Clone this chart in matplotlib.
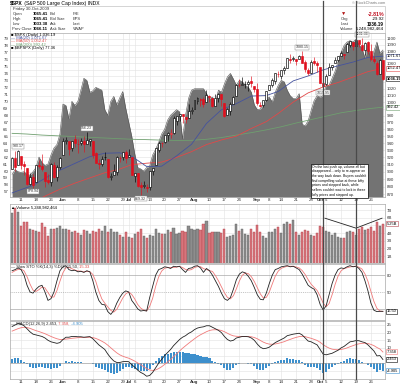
import matplotlib
matplotlib.use("Agg")
import matplotlib.pyplot as plt
import numpy as np
import pandas as pd
from matplotlib.patches import Rectangle
from matplotlib.ticker import FixedLocator, NullLocator, FuncFormatter, NullFormatter

plt.rcParams["font.family"] = ["Liberation Sans", "DejaVu Sans"]

W, H = 400, 385

HOLIDAYS = ["2009-05-25", "2009-07-03", "2009-09-07"]
DATES = pd.bdate_range("2009-05-06", "2009-10-30")
DATES = DATES[~DATES.isin(pd.to_datetime(HOLIDAYS))]

PREV_CLOSE = 903.80

OPEN = [
    903.8, 919.6, 909.0, 922.0, 910.5, 905.4, 884.2, 892.8, 886.1, 909.7,
    908.6, 900.4, 888.7, 887.0, 909.9, 892.9, 907.0, 923.3, 942.9, 942.5,
    932.5, 945.7, 938.1, 940.4, 942.7, 939.0, 943.4, 942.5, 925.6, 911.9,
    910.9, 919.9, 918.1, 893.5, 896.3, 899.5, 918.8, 919.9, 927.2, 920.8,
    921.2, 894.3, 898.6, 881.9, 881.3, 880.0, 879.6, 900.8, 910.2, 930.2,
    940.6, 942.1, 951.9, 953.4, 954.1, 972.2, 978.6, 981.5, 977.7, 976.0,
    986.8, 990.2, 1001.4, 1005.4, 1004.1, 999.8, 1008.9, 1005.8, 994.0, 1005.9,
    1012.2, 998.2, 980.6, 986.9, 996.4, 1009.1, 1026.6, 1026.6, 1027.4, 1027.8,
    1031.6, 1025.2, 1019.5, 996.1, 996.1, 1003.8, 1018.7, 1025.4, 1033.0, 1043.9,
    1040.2, 1049.0, 1053.0, 1067.9, 1066.6, 1067.1, 1066.4, 1072.7, 1062.6, 1049.5,
    1045.4, 1063.7, 1061.0, 1054.9, 1029.7, 1026.9, 1042.0, 1053.7, 1060.0, 1065.3,
    1071.6, 1074.9, 1078.7, 1090.4, 1094.7, 1088.2, 1098.6, 1090.4, 1081.0, 1095.6,
    1080.4, 1067.5, 1061.5, 1043.0, 1065.41,
]
HIGH = [
    920.3, 929.6, 930.17, 922.0, 915.6, 905.4, 898.4, 896.9, 910.0, 916.4,
    924.6, 900.4, 896.7, 911.8, 913.8, 909.5, 920.0, 947.8, 949.4, 942.5,
    942.5, 951.7, 946.3, 946.9, 949.8, 956.23, 946.3, 942.5, 928.0, 918.4,
    921.9, 927.1, 918.1, 898.7, 910.8, 921.4, 922.0, 927.5, 930.0, 931.9,
    921.2, 898.9, 898.6, 886.8, 887.9, 883.6, 901.3, 906.0, 933.0, 943.0,
    941.9, 951.6, 956.5, 959.8, 979.4, 979.8, 982.5, 982.4, 977.8, 996.7,
    993.2, 1003.6, 1007.1, 1006.6, 1008.0, 1018.0, 1010.1, 1005.8, 1012.8, 1013.1,
    1012.6, 998.2, 991.2, 999.6, 1008.9, 1027.6, 1035.8, 1037.8, 1032.5, 1033.3,
    1039.5, 1025.2, 1028.5, 1000.3, 1003.4, 1016.5, 1026.1, 1036.3, 1044.3, 1048.2,
    1049.7, 1056.0, 1068.9, 1074.8, 1071.5, 1067.3, 1073.8, 1080.15, 1066.3, 1053.5,
    1065.1, 1069.6, 1063.4, 1054.9, 1030.6, 1042.6, 1060.6, 1058.0, 1070.7, 1071.7,
    1079.5, 1075.3, 1093.2, 1096.8, 1094.7, 1100.2, 1098.6, 1101.36, 1095.2, 1095.8,
    1091.8, 1072.5, 1063.3, 1066.8, 1065.41,
]
LOW = [
    903.8, 901.4, 909.0, 903.7, 896.5, 882.0, 882.5, 878.94, 886.1, 905.2,
    901.4, 879.6, 883.8, 881.5, 891.9, 887.6, 903.6, 923.3, 938.5, 923.9,
    929.3, 934.1, 926.4, 936.7, 927.9, 939.0, 935.7, 919.7, 911.6, 903.8,
    907.9, 915.8, 892.5, 888.9, 896.3, 896.3, 913.0, 916.2, 912.9, 920.8,
    896.0, 886.4, 879.9, 869.32, 878.5, 872.8, 875.3, 896.5, 910.2, 927.4,
    934.2, 940.9, 943.2, 947.8, 953.3, 965.9, 972.3, 969.4, 968.7, 976.0,
    982.9, 990.2, 996.7, 994.3, 992.5, 999.8, 1000.0, 992.4, 993.4, 1000.8,
    994.6, 978.5, 980.6, 980.6, 996.4, 1009.1, 1022.5, 1026.2, 1021.6, 1016.2,
    1023.1, 1014.6, 996.3, 992.0, 992.3, 1001.7, 1018.7, 1023.0, 1028.0, 1038.4,
    1035.0, 1043.4, 1052.9, 1061.0, 1064.3, 1057.5, 1066.4, 1060.4, 1045.9, 1041.2,
    1045.4, 1057.8, 1046.5, 1029.4, 1019.95, 1025.9, 1042.0, 1050.0, 1060.0, 1063.0,
    1071.6, 1066.7, 1078.7, 1086.4, 1081.5, 1086.5, 1086.2, 1080.8, 1074.3, 1075.5,
    1063.3, 1060.6, 1042.2, 1043.0, 1033.38,
]
CLOSE = [
    919.5, 907.4, 929.2, 909.2, 908.4, 883.9, 893.1, 882.9, 909.7, 908.1,
    903.5, 888.3, 887.0, 910.3, 893.1, 906.8, 919.1, 942.9, 944.7, 931.8,
    942.5, 940.1, 939.1, 942.4, 939.2, 944.9, 946.2, 923.7, 912.0, 910.7,
    918.4, 921.2, 893.0, 895.1, 900.9, 920.3, 918.9, 927.2, 919.3, 923.3,
    896.4, 898.7, 881.0, 879.6, 882.7, 879.1, 901.1, 905.8, 932.7, 940.7,
    940.4, 951.1, 954.6, 954.1, 976.3, 979.3, 982.2, 979.6, 975.2, 986.8,
    987.5, 1002.6, 1005.7, 1002.7, 997.1, 1010.5, 1007.1, 994.4, 1005.8, 1012.7,
    1004.1, 979.7, 989.7, 996.5, 1007.4, 1026.1, 1025.6, 1028.0, 1028.1, 1031.0,
    1028.9, 1020.6, 998.0, 994.8, 1003.2, 1016.4, 1025.4, 1033.4, 1044.1, 1042.7,
    1049.3, 1052.6, 1068.8, 1065.5, 1068.3, 1064.7, 1071.7, 1060.9, 1050.8, 1044.4,
    1063.0, 1060.6, 1057.1, 1029.9, 1025.2, 1040.5, 1054.7, 1057.6, 1065.5, 1071.5,
    1076.2, 1073.2, 1092.0, 1096.6, 1087.7, 1097.9, 1091.1, 1081.4, 1092.9, 1079.6,
    1067.0, 1063.4, 1042.6, 1066.11, 1036.19,
]

# overlay indicator drawn as the grey area (left scale)
BREADTH = [
    59.5, 60.2, 59.9, 59.8, 59.9, 59.5, 59.4, 59.9, 60.5, 62.0,
    61.2, 60.8, 61.0, 62.3, 63.3, 63.8, 65.3, 69.6, 69.4, 67.5,
    70.0, 69.4, 70.0, 71.6, 73.3, 73.0, 71.3, 71.5, 72.0, 71.8,
    71.6, 68.8, 68.0, 70.0, 70.7, 69.5, 70.5, 71.4, 69.0, 67.0,
    65.0, 62.5, 60.5, 60.3, 60.0, 60.5, 60.7, 62.3, 63.1, 64.1,
    65.3, 66.0, 67.3, 68.0, 68.4, 68.8, 68.5, 64.6, 68.0, 70.4,
    71.6, 71.8, 71.8, 71.8, 71.8, 71.1, 70.4, 70.6, 69.9, 71.6,
    71.3, 72.5, 73.5, 74.0, 73.2, 72.3, 73.0, 72.8, 72.3, 72.0,
    71.3, 69.5, 68.8, 68.9, 69.5, 70.4, 70.6, 69.9, 71.3, 72.3,
    73.0, 72.8, 71.6, 70.8, 70.4, 70.4, 71.1, 66.7, 66.5, 67.2,
    68.7, 70.1, 70.8, 70.6, 70.8, 72.3, 72.3, 73.3, 74.3, 75.7,
    77.0, 78.0, 78.5, 78.7, 78.5, 78.9, 78.1, 77.6, 76.2, 78.1,
    75.7, 77.2, 78.5, 76.9, 77.36,
]

# moving averages, one vertex per week
MA20_IDX = [0, 2, 7, 12, 16, 21, 26, 31, 36, 40, 45, 50, 55, 60, 65, 70, 75, 80,
            85, 89, 94, 99, 104, 109, 114, 119, 124]
MA20_VAL = [872.0, 875.0, 882.0, 893.8, 902.4, 911.7, 921.1, 925.8, 926.4, 921.6,
            907.4, 907.9, 922.1, 938.4, 968.3, 988.5, 997.7, 1009.2, 1009.9, 1016.2,
            1032.5, 1040.2, 1049.8, 1056.2, 1062.2, 1069.7, 1071.67]
MA50_IDX = [8, 10, 16, 21, 26, 31, 36, 40, 45, 50, 55, 60, 65, 70, 75, 80, 85, 89,
            94, 99, 104, 109, 114, 119, 124]
MA50_VAL = [862.0, 866.0, 877.0, 885.0, 892.0, 899.0, 904.0, 910.0, 912.0, 913.5,
            920.0, 928.0, 938.0, 944.5, 950.0, 961.0, 971.0, 983.0, 1000.0, 1014.0,
            1023.0, 1030.0, 1038.5, 1047.0, 1052.47]
MA200_IDX = [0, 5, 10, 15, 20, 25, 30, 35, 40, 45, 50, 55, 60, 65, 70, 75, 80, 85,
             90, 95, 100, 105, 110, 115, 120, 124]
MA200_VAL = [954.0, 953.0, 951.5, 950.5, 949.5, 948.5, 947.5, 946.5, 945.5, 945.0,
             944.3, 943.8, 944.0, 945.5, 948.0, 951.5, 955.0, 959.0, 963.5, 969.0,
             974.0, 979.0, 984.0, 987.5, 990.5, 992.42]

# volume in billions of shares
VOLUME = [
    6.6, 7.3, 6.8, 4.9, 5.5, 5.5, 4.6, 4.4, 4.3, 4.2,
    5.3, 4.8, 3.6, 4.5, 4.5, 4.7, 4.9, 4.5, 4.5, 4.4,
    4.1, 4.3, 4.0, 3.8, 4.4, 4.3, 3.9, 4.3, 4.2, 4.6,
    4.3, 4.9, 4.2, 4.5, 4.1, 4.1, 3.7, 3.5, 4.1, 3.5,
    3.4, 3.9, 4.1, 4.5, 3.6, 3.4, 3.7, 3.6, 4.5, 4.0,
    3.9, 3.9, 4.4, 4.1, 4.7, 3.9, 4.0, 4.3, 4.2, 4.9,
    4.5, 4.4, 4.6, 4.4, 5.2, 5.6, 4.0, 4.2, 4.2, 4.2,
    4.0, 4.6, 3.5, 3.6, 3.8, 5.2, 4.3, 4.6, 3.9, 3.7,
    4.6, 4.2, 5.0, 4.2, 3.6, 3.4, 4.1, 4.2, 4.5, 4.8,
    4.0, 5.2, 5.5, 5.2, 5.7, 4.1, 3.8, 4.2, 4.4, 4.3,
    3.8, 3.6, 4.0, 4.9, 4.8, 4.3, 4.2, 3.7, 4.0, 3.5,
    3.4, 3.4, 4.1, 4.3, 4.1, 3.7, 4.5, 4.8, 4.4, 4.6,
    4.8, 4.3, 5.4, 4.9, 5.25,
]
VOL_TREND_IDX = [104.6, 115.0, 123.7]
VOL_TREND_VAL = [5.95, 4.65, 5.95]

STO_K = [
    88, 90, 93, 90, 80, 62, 50, 48, 55, 60,
    62, 50, 35, 38, 50, 70, 88, 95, 97, 90,
    88, 89, 86, 87, 85, 88, 86, 70, 50, 35,
    28, 27, 15, 10, 17, 30, 40, 48, 52, 50,
    35, 28, 20, 16, 17, 16, 40, 60, 80, 90,
    92, 95, 94, 92, 96, 95, 96, 90, 85, 92,
    93, 96, 97, 93, 85, 92, 88, 80, 70, 60,
    48, 38, 35, 40, 55, 72, 82, 86, 84, 78,
    70, 58, 45, 37, 36, 48, 65, 80, 90, 92,
    95, 96, 97, 95, 96, 93, 90, 82, 72, 62,
    58, 55, 45, 28, 18, 25, 45, 65, 80, 90,
    93, 92, 95, 97, 95, 96, 92, 85, 70, 52,
    30, 17.4, 15, 15.5, 15.5,
]
STO_D = [
    85, 88, 90.3, 91, 87.7, 77.3, 64, 53.3, 51, 54.3,
    59, 57.3, 49, 41, 41, 52.7, 69.3, 84.3, 93.3, 94,
    91.7, 89, 87.7, 87.3, 86, 86.7, 86.3, 81.3, 68.7, 51.7,
    37.7, 30, 23.3, 17.3, 14, 19, 29, 39.3, 46.7, 50,
    45.7, 37.7, 27.7, 21.3, 17.7, 16.3, 24.3, 38.7, 60, 76.7,
    87.3, 92.3, 93.7, 93.7, 94, 94.3, 95.7, 93.7, 90.3, 89,
    90, 93.7, 95.3, 95.3, 91.7, 90, 88.3, 86.7, 79.3, 70,
    59.3, 48.7, 40.3, 37.7, 43.3, 55.7, 69.7, 80, 84, 82.7,
    77.3, 68.7, 57.7, 46.7, 39.3, 40.3, 49.7, 64.3, 78.3, 87.3,
    92.3, 94.3, 96, 96, 96, 94.7, 93, 88.3, 81.3, 72,
    64, 58.3, 52.7, 42.7, 30.3, 23.7, 29.3, 45, 63.3, 78.3,
    87.7, 91.7, 93.3, 94.7, 95.7, 96, 94.3, 91, 82.3, 69,
    50.7, 33.1, 20.8, 16.0, 15.33,
]

MACD = [
    24.0, 25.0, 26.0, 25.5, 24.5, 22.5, 20.5, 19.0, 18.5, 18.0,
    17.5, 16.5, 15.0, 14.0, 13.5, 13.0, 13.5, 15.5, 17.0, 17.0,
    17.5, 17.5, 17.3, 17.3, 17.0, 17.2, 17.4, 16.0, 14.0, 12.0,
    10.5, 9.0, 6.0, 3.5, 1.5, 0.5, 0.5, 1.0, 1.2, 1.0,
    -1.0, -2.5, -4.5, -6.0, -7.0, -8.5, -8.0, -6.0, -3.0, 0.0,
    2.5, 5.0, 7.0, 9.0, 11.5, 13.5, 15.5, 17.0, 18.0, 19.5,
    20.5, 22.0, 23.0, 23.5, 23.8, 24.5, 24.5, 23.5, 22.5, 21.5,
    20.0, 17.5, 15.5, 14.5, 15.0, 16.5, 17.0, 17.5, 17.5, 17.3,
    16.5, 15.0, 12.5, 10.5, 9.5, 9.8, 10.5, 12.0, 13.5, 14.5,
    15.5, 16.5, 18.0, 18.5, 19.0, 19.3, 19.6, 18.5, 16.5, 14.5,
    14.0, 13.0, 12.0, 9.0, 6.0, 5.5, 6.0, 6.5, 7.5, 8.5,
    10.0, 11.0, 12.5, 14.0, 14.3, 14.8, 14.7, 14.0, 13.5, 12.0,
    10.0, 8.0, 4.8, 5.0, 2.453,
]
SIGNAL = [
    21.0, 21.8, 22.6, 23.2, 23.5, 23.3, 22.8, 22.0, 21.3, 20.7,
    20.0, 19.3, 18.4, 17.5, 16.7, 16.0, 15.5, 15.5, 15.8, 16.0,
    16.3, 16.5, 16.7, 16.8, 16.8, 16.9, 17.0, 16.8, 16.2, 15.4,
    14.4, 13.3, 11.8, 10.1, 8.4, 6.8, 5.5, 4.6, 3.9, 3.3,
    2.4, 1.4, 0.2, -1.0, -2.2, -3.5, -4.4, -4.7, -4.4, -3.5,
    -2.3, -0.8, 0.8, 2.5, 4.3, 6.1, 8.0, 9.8, 11.4, 13.0,
    14.5, 16.0, 17.4, 18.6, 19.6, 20.6, 21.4, 21.8, 21.9, 21.8,
    21.4, 20.6, 19.6, 18.6, 17.9, 17.6, 17.5, 17.5, 17.5, 17.5,
    17.3, 16.8, 16.0, 14.9, 13.8, 13.0, 12.5, 12.4, 12.6, 13.0,
    13.5, 14.1, 14.9, 15.6, 16.3, 16.9, 17.4, 17.6, 17.4, 16.8,
    16.3, 15.6, 14.9, 13.7, 12.2, 10.9, 9.9, 9.2, 8.9, 8.8,
    9.0, 9.4, 10.0, 10.8, 11.5, 12.2, 12.7, 13.0, 13.1, 12.9,
    12.3, 11.5, 10.3, 9.3, 7.358,
]

PRICE_NOTES = [(2, "high"), (7, "low"), (25, "high"), (43, "low"),
               (97, "high"), (104, "low"), (117, "high")]
MARKER_DAYS = [104, 115]

HEADER_ROWS = [
    ("Open", "1065.41", "Bid", "P/E"),
    ("High", "1065.41", "Bid Size", "EPS"),
    ("Low", "1033.38", "Ask", "Last"),
    ("Prev Close", "1066.11", "Ask Size", "VWAP"),
]
VOLUME_TEXT = "5,248,982,464"
NOTE = ("On the last push up, volume all but\n"
        "disappeared... only to re-appear on\n"
        "the way back down. Buyers couldn't\n"
        "find compelling value at these lofty\n"
        "prices and stepped back, while\n"
        "sellers couldn't wait to lock in these\n"
        "lofty prices and stepped up.")

# right-hand scale labels (those hidden under value tags are left out)
PRICE_GRID = list(range(870, 1101, 10))
PRICE_LABELS = [p for p in PRICE_GRID if p not in (990, 1030, 1040, 1050, 1070)]
VOL_LABELS = [1, 2, 3, 4, 6, 7]
STO_LABELS = [50, 80]
MACD_GRID = [-5, 0, 5, 10, 15, 20, 25]
MACD_LABELS = [10, 15, 20, 25]

P_LO, P_HI = 866.7, 1109.8
B_LO, B_HI = 56.27, 79.8

RED = "#e0101e"
GRID = "#e4e4e4"
FRAME = "#a8a8a8"
LBL = 3.2

open_ = np.array(OPEN)
high = np.array(HIGH)
low = np.array(LOW)
close = np.array(CLOSE)
x = np.arange(len(DATES))
prev = np.r_[PREV_CLOSE, close[:-1]]
down = close < prev

# weekly / monthly date ticks
s_idx = pd.Series(x, index=DATES)
week_first = [i for i in s_idx.groupby(DATES.to_period("W")).min().values if i != 0]
month_first = [i for i in s_idx.groupby(DATES.to_period("M")).min().values if i != 0]
ticks = {i: (DATES[i].strftime("%b"), True) for i in month_first}
for i in week_first:
    if all(abs(i - m) > 1 for m in month_first):
        ticks[i] = (str(DATES[i].day), False)
tick_pos = sorted(ticks)


def rect(x0, y0, x1, y1):
    return [x0 / W, 1 - y1 / H, (x1 - x0) / W, (y1 - y0) / H]


def style(ax):
    for s in ax.spines.values():
        s.set_color(FRAME)
        s.set_linewidth(0.5)
    ax.tick_params(length=0, labelsize=LBL, pad=1.3, colors="#333333")
    ax.tick_params(axis="x", labelbottom=False)


fig = plt.figure(figsize=(W / 100, H / 100), dpi=100)
ax_b = fig.add_axes(rect(10, 33, 385, 197))
ax_p = ax_b.twinx()
ax_v = fig.add_axes(rect(10, 204, 385, 263), sharex=ax_b)
ax_s = fig.add_axes(rect(10, 264, 385, 320), sharex=ax_b)
ax_m = fig.add_axes(rect(10, 321, 385, 379), sharex=ax_b)
ax_o = fig.add_axes([0, 0, 1, 1])
ax_o.set_xlim(0, W)
ax_o.set_ylim(H, 0)
ax_o.axis("off")

ax_b.set_xlim(-0.7, len(x) - 0.3)
ax_b.set_xticks(tick_pos)
for ax in (ax_b, ax_p, ax_v, ax_s, ax_m):
    style(ax)
for s in ax_p.spines.values():
    s.set_visible(False)

# ---- price panel
ax_b.set_ylim(B_LO, B_HI)
ax_b.set_yticks(range(57, 80))
ax_b.set_axisbelow(True)
ax_b.grid(axis="x", color=GRID, lw=0.45)
for p in PRICE_GRID:
    f = (np.log(p) - np.log(P_LO)) / (np.log(P_HI) - np.log(P_LO))
    ax_b.plot([0, 1], [f, f], transform=ax_b.transAxes, color=GRID, lw=0.45, zorder=0.5)
ax_b.fill_between(x, BREADTH, B_LO, color="#737373", lw=0, zorder=1)
ax_b.plot(x, BREADTH, color="#555555", lw=0.4, zorder=1.2)

ax_p.set_yscale("log")
ax_p.set_ylim(P_LO, P_HI)
ax_p.yaxis.set_major_locator(FixedLocator(PRICE_LABELS))
ax_p.yaxis.set_minor_locator(NullLocator())
ax_p.yaxis.set_major_formatter(FuncFormatter(lambda v, _: f"{v:.0f}"))
ax_p.yaxis.set_minor_formatter(NullFormatter())

ax_p.plot(MA200_IDX, MA200_VAL, color="#6f9f6f", lw=0.6, zorder=2)
ax_p.plot(MA50_IDX, MA50_VAL, color="#e24848", lw=0.6, zorder=2)
ax_p.plot(MA20_IDX, MA20_VAL, color="#45539e", lw=0.6, zorder=2)

edge = np.where(down, RED, "black")
face = np.where(close >= open_, "white", edge)
ax_p.vlines(x, low, high, colors=edge, lw=0.45, zorder=3)
ax_p.bar(x, np.maximum(np.abs(close - open_), 0.5), bottom=np.minimum(open_, close),
         width=0.66, color=face, edgecolor=edge, linewidth=0.45, zorder=4)

note_box = dict(boxstyle="square,pad=0.12", fc="white", ec="#8a8a8a", lw=0.35)
for i, kind in PRICE_NOTES:
    v = high[i] if kind == "high" else low[i]
    ax_p.annotate(f"{v:.2f}", (i, v), xytext=(0, 1.2 if kind == "high" else -1.2),
                  textcoords="offset points", ha="center",
                  va="bottom" if kind == "high" else "top", fontsize=2.6,
                  color="#333333", bbox=note_box, zorder=6, annotation_clip=False)


def value_tag(ax, v, text, ec, weight="normal"):
    ax.annotate(text, xy=(1, v), xycoords=("axes fraction", "data"), xytext=(1.3, 0),
                textcoords="offset points", ha="left", va="center", fontsize=2.9,
                fontweight=weight, bbox=dict(boxstyle="square,pad=0.12", fc="white", ec=ec, lw=0.4),
                annotation_clip=False, zorder=10)


value_tag(ax_p, MA20_VAL[-1], f"{MA20_VAL[-1]:.2f}", "#45539e")
value_tag(ax_p, MA50_VAL[-1], f"{MA50_VAL[-1]:.2f}", "#e24848")
value_tag(ax_p, close[-1], f"{close[-1]:.2f}", "black", "bold")
value_tag(ax_p, MA200_VAL[-1], f"{MA200_VAL[-1]:.2f}", "#6f9f6f")

# ---- volume panel
ax_v.set_ylim(0.1, 7.8)
ax_v.set_yticks(range(1, 8))
ax_v.set_yticklabels([f"{v}B" if v in VOL_LABELS else "" for v in range(1, 8)])
ax_v.yaxis.tick_right()
ax_v.set_axisbelow(True)
ax_v.grid(color=GRID, lw=0.45)
vcol = np.where(down, "#d8757c", "#8d8d8d")
vedge = np.where(down, "#b4454d", "#646464")
ax_v.bar(x, VOLUME, width=0.72, color=vcol, edgecolor=vedge, linewidth=0.3)
ax_v.plot(VOL_TREND_IDX, VOL_TREND_VAL, color="#222222", lw=0.6, zorder=5)
value_tag(ax_v, VOLUME[-1], f"{VOLUME[-1]:.2f}B", "#b4454d")

# ---- stochastics panel
ax_s.set_ylim(0, 100)
ax_s.set_yticks([20, 50, 80])
ax_s.set_yticklabels([str(v) if v in STO_LABELS else "" for v in (20, 50, 80)])
ax_s.yaxis.tick_right()
ax_s.set_axisbelow(True)
ax_s.grid(axis="x", color=GRID, lw=0.45)
for lvl, ls in [(80, "-"), (50, (0, (1.5, 1.5))), (20, "-")]:
    ax_s.axhline(lvl, color="#a0a0a0", lw=0.45, ls=ls, zorder=1)
ax_s.plot(x, STO_D, color="#f07a7a", lw=0.6)
ax_s.plot(x, STO_K, color="#222222", lw=0.6)
value_tag(ax_s, STO_K[-1], f"{STO_K[-1]:.2f}", "black")

# ---- MACD panel
ax_m.set_ylim(-10.3, 27.6)
ax_m.set_yticks(MACD_GRID)
ax_m.set_yticklabels([str(v) if v in MACD_LABELS else "" for v in MACD_GRID])
ax_m.yaxis.tick_right()
ax_m.set_axisbelow(True)
ax_m.grid(color=GRID, lw=0.45)
hist = np.array(MACD) - np.array(SIGNAL)
ax_m.axhline(0, color="#a0a0a0", lw=0.45)
ax_m.bar(x, hist, width=0.7, color="#3d8fcc", lw=0)
ax_m.plot(x, SIGNAL, color="#f07a7a", lw=0.6)
ax_m.plot(x, MACD, color="#222222", lw=0.6)
value_tag(ax_m, SIGNAL[-1], f"{SIGNAL[-1]:.3f}", "#f07a7a")
value_tag(ax_m, MACD[-1], f"{MACD[-1]:.3f}", "black")
value_tag(ax_m, hist[-1], f"{hist[-1]:.3f}", "#3d8fcc")

# date labels under the price panel and the MACD panel
for ax in (ax_b, ax_m):
    for i in tick_pos:
        lab, bold = ticks[i]
        ax.annotate(lab, xy=(i, 0), xycoords=("data", "axes fraction"), xytext=(0, -1.0),
                    textcoords="offset points", ha="center", va="top", fontsize=LBL,
                    fontweight="bold" if bold else "normal", color="#333333",
                    annotation_clip=False)


# ---- header and legends (pixel coordinates on the overlay)
def chain(parts, x0, y0, size):
    t = ax_o.text(x0, y0, parts[0][0], color=parts[0][1], fontsize=size, va="center", ha="left")
    for s, c in parts[1:]:
        t = ax_o.annotate(s, xy=(1, 0), xycoords=t, ha="left", va="bottom", color=c, fontsize=size)
    return t


t = ax_o.text(10, 3.2, "$SPX", fontsize=3.6, fontweight="bold", va="center")
ax_o.annotate(" (S&P 500 Large Cap Index) INDX", xy=(1, 0), xycoords=t, ha="left",
              va="bottom", fontsize=3.6)
ax_o.text(385, 2.8, "© StockCharts.com", fontsize=2.8, color="#777777", ha="right", va="center")
ax_o.add_patch(Rectangle((10, 5.6), 375, 27.4, fill=False, ec="#c4c4c4", lw=0.5))
ax_o.text(13, 8.8, "Friday 30-Oct-2009", fontsize=3.1, va="center", color="#333333")
for r, (l1, v1, l2, l3) in enumerate(HEADER_ROWS):
    yy = 14 + 5 * r
    ax_o.text(12.5, yy, l1, fontsize=2.9, va="center", color="#333333")
    ax_o.text(33, yy, v1, fontsize=3.1, va="center", fontweight="bold")
    ax_o.text(50, yy, l2, fontsize=2.9, va="center", color="#333333")
    ax_o.text(73, yy, l3, fontsize=2.9, va="center", color="#333333")

ax_o.text(344, 13.4, "▼", fontsize=3.8, color="#b01010", va="center", ha="center")
ax_o.text(341, 19, "Chg", fontsize=3.0, va="center", color="#333333")
ax_o.text(341, 24, "Last", fontsize=3.0, va="center", color="#333333")
ax_o.text(340, 29, "Volume", fontsize=3.0, va="center", color="#333333")
chg = close[-1] - close[-2]
ax_o.text(384, 14, f"{chg / close[-2] * 100:.2f}%", fontsize=3.8, fontweight="bold",
          color="#c01020", va="center", ha="right")
ax_o.text(384, 19, f"{chg:.2f}", fontsize=3.2, va="center", ha="right")
ax_o.text(384, 24, f"{close[-1]:.2f}", fontsize=3.3, fontweight="bold", va="center", ha="right")
ax_o.text(384, 29, VOLUME_TEXT, fontsize=3.2, va="center", ha="right")

chain([(f"■ $SPX (Daily) {close[-1]:,.2f}", "black")], 11, 34.6, 3.0)
chain([(f"— MA(20) {MA20_VAL[-1]:,.2f}", "#45539e")], 11, 38.0, 3.0)
chain([(f"— MA(50) {MA50_VAL[-1]:,.2f}", "#e24848")], 11, 41.4, 3.0)
chain([(f"— MA(200) {MA200_VAL[-1]:,.2f}", "#6f9f6f")], 11, 44.8, 3.0)
chain([(f"■ $BPSPX (Daily) {BREADTH[-1]:.2f}", "black")], 11, 48.2, 3.0)
chain([(f"▲ Volume {VOLUME_TEXT}", "black")], 11, 207.5, 3.0)
chain([(f"— Slow STO %K(14,3) %D(3) {STO_K[-1]:.2f},", "#222222"),
       (f" {STO_D[-1]:.2f}", "#e24848")], 11, 267.0, 3.0)
chain([(f"— MACD(12,26,9) {MACD[-1]:.3f},", "#222222"), (f" {SIGNAL[-1]:.3f},", "#e24848"),
       (f" {hist[-1]:.3f}", "#3d8fcc")], 11, 324.0, 3.0)

# full-height marker lines
fig.canvas.draw()
for d in MARKER_DAYS:
    px = ax_o.transData.inverted().transform(ax_b.transData.transform((d, B_LO)))[0]
    ax_o.plot([px, px], [0.5, 379], color="#4a4a4a", lw=0.9, zorder=2)

ax_o.text(312.5, 164.8, NOTE, fontsize=2.45, va="top", ha="left", linespacing=1.22,
          bbox=dict(boxstyle="square,pad=0.35", fc="white", ec="black", lw=0.5), zorder=5)

fig.savefig("out.png", dpi=100)
